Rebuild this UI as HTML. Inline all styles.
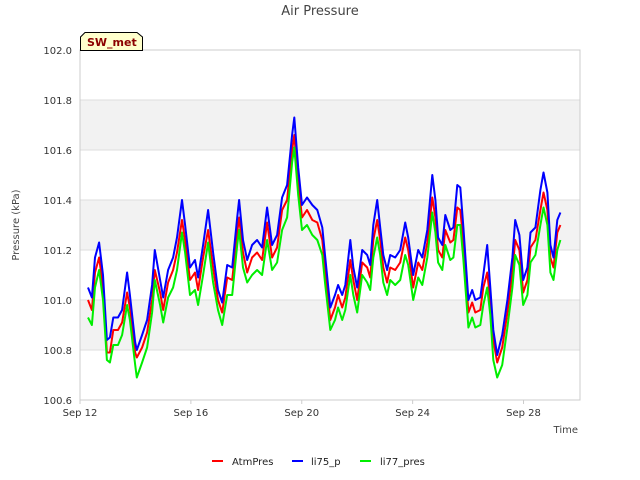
<!DOCTYPE html>
<html><head><meta charset="utf-8"><style>
body{margin:0;background:#fff;font-family:"DejaVu Sans","Liberation Sans",sans-serif;}
svg{display:block}
</style></head><body>
<svg id="chart" width="640" height="480" font-family="DejaVu Sans, Liberation Sans, sans-serif">
<rect width="640" height="480" fill="#fff"/>
<text x="320" y="15" text-anchor="middle" font-size="13" fill="#444">Air Pressure</text>
<text transform="translate(19,225) rotate(-90)" text-anchor="middle" font-size="10" fill="#444">Pressure (kPa)</text>
<text x="578" y="433" text-anchor="end" font-size="10" fill="#444">Time</text>
<g id="bands"></g>
<g id="grid"></g>
<g id="yticks"></g>
<g id="xticks"></g>
<g id="series"></g>
<rect x="80" y="50" width="500" height="350" fill="none" stroke="#ccc"/>
<g>
<path d="M80.5,50.5 V37 L85,32.5 H137 L142.5,37 V50.5 Z" fill="#ffffcc" stroke="#000" stroke-width="1"/>
<text x="87" y="46" font-size="11" font-weight="bold" fill="#8b0000">SW_met</text>
</g>
<g>
<g><line x1="212" y1="461" x2="223" y2="461" stroke="#f00" stroke-width="2"/><text x="232" y="465" font-size="10" fill="#222">AtmPres</text></g>
<g><line x1="292" y1="461" x2="303" y2="461" stroke="#00f" stroke-width="2"/><text x="311" y="465" font-size="10" fill="#222">li75_p</text></g>
<g><line x1="360" y1="461" x2="371" y2="461" stroke="#0e0" stroke-width="2"/><text x="380" y="465" font-size="10" fill="#222">li77_pres</text></g>
</g>
</svg>
<script>
const days=[0.29,0.43,0.54,0.69,0.83,0.97,1.08,1.2,1.37,1.52,1.7,1.8,1.99,2.05,2.24,2.42,2.6,2.7,2.89,3.0,3.18,3.36,3.5,3.68,3.79,3.97,4.15,4.26,4.44,4.62,4.8,4.98,5.13,5.31,5.49,5.67,5.74,5.88,6.03,6.21,6.39,6.57,6.75,6.93,7.11,7.29,7.47,7.65,7.73,7.87,8.01,8.19,8.38,8.56,8.74,
8.84,9.03,9.2,9.31,9.46,9.57,9.75,9.86,10.0,10.18,10.36,10.47,10.58,10.72,10.83,10.94,11.08,11.19,11.37,11.55,11.73,11.84,12.02,12.2,12.35,12.53,12.71,12.82,12.92,13.07,13.18,13.36,13.47,13.61,13.72,13.83,14.01,14.15,14.26,14.44,14.55,14.69,14.8,14.91,15.05,15.23,15.42,15.6,15.7,15.85,15.99,16.14,16.25,16.43,16.61,16.72,16.86,16.97,17.08,17.22,17.33];
const atmPres=[101.0,100.96,101.11,101.17,101.05,100.79,100.79,100.88,100.88,100.91,101.03,100.97,100.79,100.77,100.81,100.87,101.0,101.12,101.03,100.96,101.07,101.12,101.19,101.32,101.24,101.08,101.11,101.04,101.17,101.28,101.13,101.0,100.95,101.09,101.08,101.27,101.33,101.19,101.11,101.17,101.19,101.16,101.31,101.17,101.21,101.36,101.4,101.6,101.66,101.47,101.33,101.36,101.32,101.31,101.24,
101.13,100.92,100.97,101.02,100.97,101.01,101.16,101.08,101.0,101.15,101.13,101.09,101.24,101.32,101.24,101.13,101.07,101.13,101.12,101.15,101.25,101.2,101.05,101.15,101.12,101.23,101.41,101.33,101.2,101.17,101.28,101.23,101.24,101.37,101.36,101.23,100.95,100.99,100.95,100.96,101.05,101.11,101.0,100.84,100.75,100.81,100.95,101.11,101.24,101.2,101.03,101.08,101.21,101.24,101.36,101.43,101.36,101.17,101.13,101.27,101.3];
const li75p=[101.05,101.01,101.17,101.23,101.1,100.84,100.85,100.93,100.93,100.96,101.11,101.02,100.83,100.8,100.86,100.92,101.06,101.2,101.08,101.01,101.12,101.17,101.25,101.4,101.3,101.13,101.16,101.09,101.22,101.36,101.19,101.04,100.99,101.14,101.13,101.33,101.4,101.24,101.16,101.22,101.24,101.21,101.37,101.22,101.26,101.41,101.46,101.66,101.73,101.53,101.38,101.41,101.38,101.36,101.29,
101.18,100.97,101.02,101.06,101.02,101.06,101.24,101.13,101.05,101.2,101.18,101.14,101.3,101.4,101.29,101.18,101.12,101.18,101.17,101.2,101.31,101.25,101.1,101.2,101.17,101.28,101.5,101.4,101.25,101.22,101.34,101.28,101.29,101.46,101.45,101.29,101.0,101.04,101.0,101.01,101.1,101.22,101.05,100.88,100.78,100.86,101.0,101.17,101.32,101.26,101.08,101.13,101.27,101.29,101.44,101.51,101.43,101.22,101.17,101.32,101.35];
const li77pres=[100.93,100.9,101.05,101.12,101.0,100.76,100.75,100.82,100.82,100.86,100.98,100.92,100.74,100.69,100.75,100.81,100.95,101.08,100.98,100.91,101.01,101.05,101.12,101.27,101.19,101.02,101.04,100.98,101.1,101.23,101.07,100.96,100.9,101.02,101.02,101.22,101.28,101.13,101.07,101.1,101.12,101.1,101.24,101.12,101.15,101.28,101.33,101.55,101.61,101.42,101.28,101.3,101.26,101.24,101.18,
101.07,100.88,100.92,100.97,100.92,100.96,101.1,101.02,100.95,101.1,101.07,101.04,101.17,101.25,101.18,101.07,101.02,101.08,101.06,101.08,101.18,101.14,101.0,101.09,101.06,101.17,101.35,101.27,101.15,101.12,101.22,101.16,101.17,101.3,101.3,101.16,100.89,100.93,100.89,100.9,100.98,101.05,100.94,100.76,100.69,100.74,100.89,101.05,101.18,101.14,100.98,101.02,101.15,101.18,101.3,101.37,101.3,101.11,101.08,101.2,101.24];
const yTicks=[100.6,100.8,101.0,101.2,101.4,101.6,101.8,102.0];
const xTickDays=[0,4,8,12,16];
const xTickLabels=["Sep 12","Sep 16","Sep 20","Sep 24","Sep 28"];

const NS="http://www.w3.org/2000/svg";
const X0=80,X1=580,Y0=400,Y1=50,YMIN=100.6,YMAX=102.0,DAYPX=27.72;
function xs(d){return X0+d*DAYPX;}
function ys(v){return Y0-(v-YMIN)/(YMAX-YMIN)*(Y0-Y1);}
function mk(tag,attrs,parent){const e=document.createElementNS(NS,tag);for(const k in attrs)e.setAttribute(k,attrs[k]);parent.appendChild(e);return e;}
const bands=document.getElementById('bands'),grid=document.getElementById('grid'),yg=document.getElementById('yticks'),xg=document.getElementById('xticks'),sg=document.getElementById('series');
for(let i=0;i<yTicks.length-1;i++){
  if(i%2===1){
    const r=mk('rect',{x:X0,y:ys(yTicks[i+1]),width:X1-X0,height:ys(yTicks[i])-ys(yTicks[i+1]),fill:'#f2f2f2'},bands);
    
    
  }
}
yTicks.forEach(v=>{
  const y=ys(v);
  const l=mk('line',{x1:X0,x2:X1,y1:y,y2:y,stroke:'#ddd','stroke-width':1},grid);
  
  
  const t=mk('text',{x:72,y:y+4,'text-anchor':'end','font-size':10,fill:'#333'},yg);
  t.textContent=v.toFixed(1);
  
  
});
xTickDays.forEach((d,i)=>{
  const x=xs(d);
  const l=mk('line',{x1:x,x2:x,y1:Y0,y2:Y0+4,stroke:'#ccc'},xg);
  
  
  const t=mk('text',{x:x,y:Y0+16,'text-anchor':'middle','font-size':10,fill:'#333'},xg);
  t.textContent=xTickLabels[i];
  
  
});
function draw(vals,color,name){
  const d=vals.map((v,i)=>(i?'L':'M')+xs(days[i]).toFixed(1)+','+ys(v).toFixed(1)).join('');
  const p=mk('path',{d:d,fill:'none',stroke:color,'stroke-width':2,'stroke-linejoin':'round'},sg);
  
  
}
draw(atmPres,'#f00','atmpres-line');
draw(li75p,'#00f','li75-p-line');
draw(li77pres,'#0e0','li77-pres-line');
</script>
</body></html>
